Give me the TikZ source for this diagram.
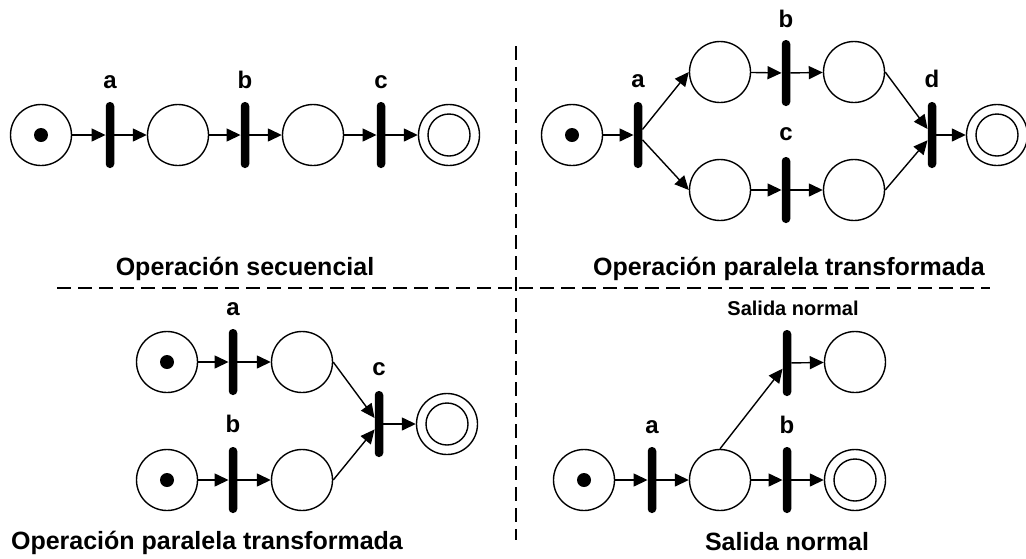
\documentclass[tikz,border=0pt]{standalone}
\usepackage{fontspec}
\setmainfont{Liberation Sans}
\usetikzlibrary{arrows.meta}
\begin{document}
\begin{tikzpicture}[x=1pt,y=-1pt,
  place/.style={circle,draw,line width=1.4pt,minimum size=61pt,inner sep=0pt},
  bar/.style={rectangle,fill=black,minimum width=8.5pt,minimum height=66pt,rounded corners=4pt,inner sep=0pt},
  arc/.style={line width=1.4pt,-{Triangle[length=14pt,width=13pt]}},
  lbl/.style={anchor=base,inner sep=0pt,font=\bfseries\fontsize{24}{28}\selectfont},
  smalllbl/.style={anchor=base,inner sep=0pt,font=\bfseries\fontsize{20}{24}\selectfont},
  captxt/.style={anchor=base,inner sep=0pt,font=\bfseries\fontsize{25}{30}\selectfont},
  sep/.style={line width=2.3pt,dash pattern=on 14pt off 7pt}]
\useasboundingbox (0,0) rectangle (1026,558);
% separators
\coordinate (h1) at (57,288);
\coordinate (h2) at (990,288);
\coordinate (v1) at (516,46);
\coordinate (v2) at (516,540);
\draw[sep] (h1) -- (h2);
\draw[sep] (v1) -- (v2);

% ---------- top-left: sequential ----------
\node[place] (A1) at (41,135) {};
\node[bar] (Aa) at (110,135) {};
\node[place] (A2) at (178,135) {};
\node[bar] (Ab) at (245,135) {};
\node[place] (A3) at (313,135) {};
\node[bar] (Ac) at (381,135) {};
\node[place] (A4) at (449,135) {};
\draw[line width=1.4pt] (A4) circle (21pt);
\fill (A1) circle (7pt);
\node[lbl] (Ala) at (110,88) {a};
\node[lbl] (Alb) at (245,88) {b};
\node[lbl] (Alc) at (381,88) {c};
\draw[arc] (A1) -- (Aa);
\draw[arc] (Aa) -- (A2);
\draw[arc] (A2) -- (Ab);
\draw[arc] (Ab) -- (A3);
\draw[arc] (A3) -- (Ac);
\draw[arc] (Ac) -- (A4);
\node[captxt] (Acap) at (245,275) {Operación secuencial};

% ---------- top-right: parallel ----------
\node[place] (B1) at (572,135) {};
\fill (B1) circle (7pt);
\node[bar] (Ba) at (638,135) {};
\node[place] (Bu1) at (720,72) {};
\node[place] (Bl1) at (720,190) {};
\node[bar] (Bb) at (786,73) {};
\node[bar] (Bc) at (786,190) {};
\node[place] (Bu2) at (854,72) {};
\node[place] (Bl2) at (854,190) {};
\node[bar] (Bd) at (932,135) {};
\node[place] (Bf) at (997,135) {};
\draw[line width=1.4pt] (Bf) circle (21pt);
\node[lbl] (Bla) at (638,87) {a};
\node[lbl] (Blb) at (786,27) {b};
\node[lbl] (Blc) at (786,140) {c};
\node[lbl] (Bld) at (932,87) {d};
\draw[arc] (B1) -- (Ba);
\draw[arc] (Ba) -- (Bu1.west);
\draw[arc] (Ba) -- (Bl1.west);
\draw[arc] (Bu1) -- (Bb);
\draw[arc] (Bb) -- (Bu2);
\draw[arc] (Bl1) -- (Bc);
\draw[arc] (Bc) -- (Bl2);
\draw[arc] (Bu2.east) -- (Bd);
\draw[arc] (Bl2.east) -- (Bd);
\draw[arc] (Bd) -- (Bf);
\node[captxt] (Bcap) at (789,275) {Operación paralela transformada};

% ---------- bottom-left: parallel join ----------
\node[place] (C1) at (167,362) {};
\fill (C1) circle (7pt);
\node[bar] (Ca) at (233,362) {};
\node[place] (C2) at (302,362) {};
\node[place] (C3) at (167,480) {};
\fill (C3) circle (7pt);
\node[bar] (Cb) at (233,480) {};
\node[place] (C4) at (302,480) {};
\node[bar] (Cc) at (379,424) {};
\node[place] (Cf) at (447,424) {};
\draw[line width=1.4pt] (Cf) circle (21pt);
\node[lbl] (Cla) at (233,315) {a};
\node[lbl] (Clb) at (233,432) {b};
\node[lbl] (Clc) at (379,375) {c};
\draw[arc] (C1) -- (Ca);
\draw[arc] (Ca) -- (C2);
\draw[arc] (C3) -- (Cb);
\draw[arc] (Cb) -- (C4);
\draw[arc] (C2.east) -- (Cc);
\draw[arc] (C4.east) -- (Cc);
\draw[arc] (Cc) -- (Cf);
\node[captxt] (Ccap) at (207,549) {Operación paralela transformada};

% ---------- bottom-right: exit ----------
\node[place] (D1) at (584,480) {};
\fill (D1) circle (7pt);
\node[bar] (Da) at (652,480) {};
\node[place] (Dm) at (720,480) {};
\node[bar] (Db) at (787,480) {};
\node[place] (Df) at (855,480) {};
\draw[line width=1.4pt] (Df) circle (21pt);
\node[bar] (Du) at (787,363) {};
\node[place] (Dp) at (855,362) {};
\node[lbl] (Dla) at (652,433) {a};
\node[lbl] (Dlb) at (787,433) {b};
\node[smalllbl] (Dls) at (793,315) {Salida normal};
\draw[arc] (D1) -- (Da);
\draw[arc] (Da) -- (Dm);
\draw[arc] (Dm) -- (Db);
\draw[arc] (Db) -- (Df);
\draw[arc] (Dm.north) -- (Du);
\draw[arc] (Du) -- (Dp);
\node[captxt] (Dcap) at (787,550) {Salida normal};
\end{tikzpicture}
\end{document}
